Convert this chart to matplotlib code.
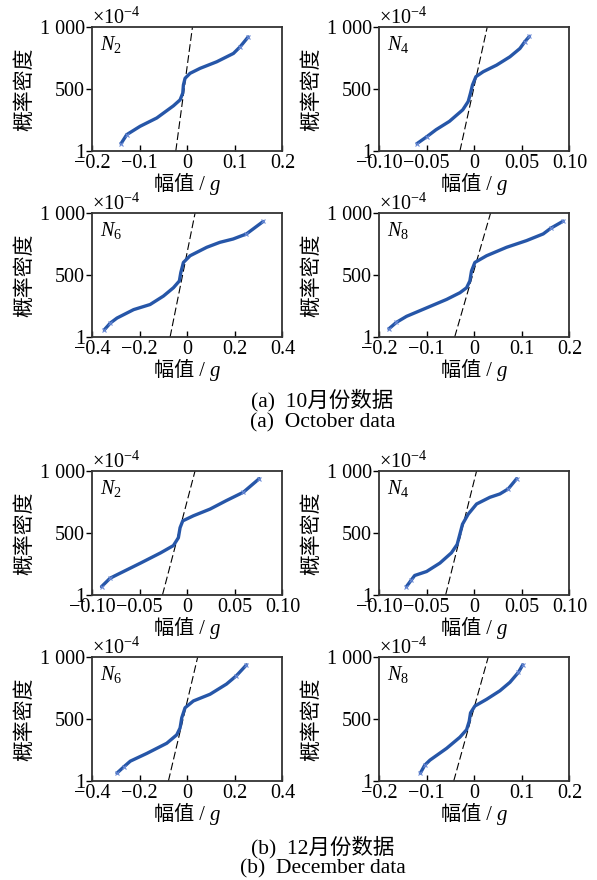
import matplotlib
matplotlib.use("Agg")
import matplotlib.pyplot as plt
from matplotlib.offsetbox import AnchoredOffsetbox, HPacker, TextArea

plt.rcParams['font.family'] = ['Liberation Serif', 'Noto Sans CJK SC']
plt.rcParams['mathtext.fontset'] = 'custom'
plt.rcParams['mathtext.rm'] = 'Liberation Serif'
plt.rcParams['mathtext.it'] = 'Liberation Serif:italic'

# 10월 데이터 (October)
oct_n2_x = [-0.139, -0.127, -0.099, -0.064, -0.029, -0.015, -0.0094, -0.008, -0.0045, 0.006, 0.027, 0.062, 0.097, 0.111, 0.128]
oct_n2_y = [61, 133, 200, 267, 365, 413, 467, 533, 587, 627, 667, 720, 787, 840, 920]
oct_n2_ref = [-0.024, 0.011]

oct_n4_x = [-0.060, -0.050, -0.040, -0.026, -0.012, -0.0063, -0.0039, -0.0018, 0.0018, 0.0095, 0.0235, 0.0375, 0.048, 0.053, 0.058]
oct_n4_y = [61, 115, 173, 240, 333, 400, 467, 533, 600, 640, 693, 760, 827, 880, 925]
oct_n4_ref = [-0.015, 0.0137]

oct_n6_x = [-0.348, -0.323, -0.295, -0.225, -0.156, -0.100, -0.058, -0.033, -0.027, -0.016, 0.012, 0.082, 0.137, 0.193, 0.249, 0.319]
oct_n6_y = [60, 114, 154, 222, 263, 331, 398, 453, 520, 602, 656, 724, 764, 791, 832, 932]
oct_n6_ref = [-0.072, 0.033]

oct_n8_x = [-0.179, -0.1635, -0.142, -0.100, -0.058, -0.030, -0.016, -0.0091, -0.0056, 0.0014, 0.026, 0.068, 0.110, 0.145, 0.161, 0.187]
oct_n8_y = [68, 119, 168, 236, 304, 358, 398, 453, 534, 602, 656, 724, 778, 832, 878, 935]
oct_n8_ref = [-0.041, 0.0344]

# 12월 데이터 (December)
dec_n2_x = [-0.090, -0.081, -0.074, -0.049, -0.028, -0.0145, -0.0093, -0.0075, -0.0047, 0.0065, 0.024, 0.041, 0.059, 0.0756]
dec_n2_y = [68, 136, 163, 258, 340, 399, 462, 543, 598, 639, 693, 761, 829, 938]
dec_n2_ref = [-0.026, 0.0082]

dec_n4_x = [-0.0712, -0.066, -0.0625, -0.050, -0.036, -0.024, -0.0179, -0.0151, -0.0123, -0.0063, 0.0025, 0.0165, 0.027, 0.0358, 0.0446]
dec_n4_y = [68, 122, 158, 190, 258, 340, 408, 489, 571, 652, 734, 788, 815, 856, 938]
dec_n4_ref = [-0.030, 0.0025]

dec_n6_x = [-0.295, -0.267, -0.239, -0.170, -0.086, -0.044, -0.030, -0.023, -0.009, 0.026, 0.096, 0.165, 0.207, 0.249]
dec_n6_y = [65, 114, 161, 223, 305, 373, 428, 510, 591, 646, 700, 782, 850, 937]
dec_n6_ref = [-0.079, 0.044]

dec_n8_x = [-0.113, -0.104, -0.093, -0.058, -0.030, -0.016, -0.0105, -0.0077, 0.0014, 0.026, 0.054, 0.075, 0.093, 0.102]
dec_n8_y = [65, 128, 169, 264, 354, 414, 482, 550, 605, 659, 728, 796, 877, 937]
dec_n8_ref = [-0.043, 0.0295]

ref_y = [1, 1000]
y_ticks = [1, 500, 1000]
y_ticklabels = ['1', '500', '1 000']

ticks_01 = [-0.10, -0.05, 0, 0.05, 0.10]
labels_01 = ['\u22120.10', '\u22120.05', '0', '0.05', '0.10']
ticks_02 = [-0.2, -0.1, 0, 0.1, 0.2]
labels_02 = ['\u22120.2', '\u22120.1', '0', '0.1', '0.2']
ticks_04 = [-0.4, -0.2, 0, 0.2, 0.4]
labels_04 = ['\u22120.4', '\u22120.2', '0', '0.2', '0.4']

panels = [
    (oct_n2_x, oct_n2_y, oct_n2_ref, r'$N_2$', ticks_02, labels_02),
    (oct_n4_x, oct_n4_y, oct_n4_ref, r'$N_4$', ticks_01, labels_01),
    (oct_n6_x, oct_n6_y, oct_n6_ref, r'$N_6$', ticks_04, labels_04),
    (oct_n8_x, oct_n8_y, oct_n8_ref, r'$N_8$', ticks_02, labels_02),
    (dec_n2_x, dec_n2_y, dec_n2_ref, r'$N_2$', ticks_01, labels_01),
    (dec_n4_x, dec_n4_y, dec_n4_ref, r'$N_4$', ticks_01, labels_01),
    (dec_n6_x, dec_n6_y, dec_n6_ref, r'$N_6$', ticks_04, labels_04),
    (dec_n8_x, dec_n8_y, dec_n8_ref, r'$N_8$', ticks_02, labels_02),
]

# 축 위치 (figure fraction)
col_x = [0.1541, 0.6348]
col_w = 0.319
row_y = [0.8284, 0.6170, 0.3239, 0.1125]
row_h = 0.1409

band_color = '#2656a8'
mark_color = '#6a8ad6'
cjk_serif = ['Liberation Serif', 'Noto Sans CJK SC']

fig = plt.figure(figsize=(5.97, 8.80), dpi=100)

for i, (xs, ys, ref, name, xt, xtl) in enumerate(panels):
    r, c = divmod(i, 2)
    ax = fig.add_axes([col_x[c], row_y[r], col_w, row_h])
    ax.plot(ref, ref_y, color='black', lw=0.8, dashes=(7, 3), zorder=2)
    ax.plot(xs, ys, color=band_color, lw=2.4, solid_capstyle='round',
            solid_joinstyle='round', zorder=3)
    ax.plot(xs[:2], ys[:2], ls='none', marker='x', ms=3.5, mew=0.8,
            color=mark_color, zorder=4)
    ax.plot(xs[-2:], ys[-2:], ls='none', marker='x', ms=3.5, mew=0.8,
            color=mark_color, zorder=4)
    ax.set_xlim(xt[0], xt[-1])
    ax.set_ylim(1, 1000)
    ax.set_xticks(xt)
    ax.set_xticklabels(xtl)
    ax.set_yticks(y_ticks)
    ax.set_yticklabels(y_ticklabels)
    ax.tick_params(axis='x', direction='in', length=4, width=1, pad=2, labelsize=14.5)
    ax.tick_params(axis='y', direction='out', length=4, width=1, pad=1, labelsize=14.5)
    for sp in ax.spines.values():
        sp.set_linewidth(1.3)
        sp.set_color('#333333')
    ax.set_ylabel('概率密度', fontsize=15)
    ax.yaxis.set_label_coords(-0.30, 0.5)

    # 幅值 / g  (g 이탤릭)
    xlab = HPacker(children=[
        TextArea('幅值 / ', textprops=dict(fontsize=14.5, family=cjk_serif)),
        TextArea('g', textprops=dict(fontsize=15, family='Liberation Serif', style='italic')),
    ], align='baseline', pad=0, sep=0)
    ax.add_artist(AnchoredOffsetbox(loc='center', child=xlab, pad=0, borderpad=0,
                                    frameon=False, bbox_to_anchor=(0.5, -0.28),
                                    bbox_transform=ax.transAxes))

    ax.text(0.04, 0.94, name, transform=ax.transAxes, fontsize=14.5, va='top', ha='left')
    ax.text(0.0, 0.985, r'$\times10^{-4}$', transform=ax.transAxes, fontsize=14.5,
            va='bottom', ha='left')

cap_x = 0.54
fig.text(cap_x, 1 - 400 / 880, '(a)  10月份数据', fontsize=15.5, ha='center', va='center')
fig.text(cap_x, 1 - 423 / 880, '(a)  October data', fontsize=15.5, ha='center', va='center')
fig.text(cap_x, 1 - 847 / 880, '(b)  12月份数据', fontsize=15.5, ha='center', va='center')
fig.text(cap_x, 1 - 869 / 880, '(b)  December data', fontsize=15.5, ha='center', va='center')

fig.savefig('out.png', dpi=100)
